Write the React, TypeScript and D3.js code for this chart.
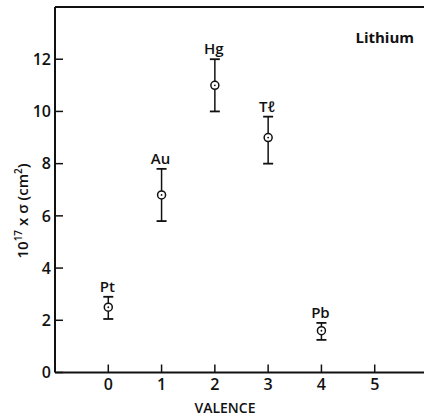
import React from "react";
import * as d3 from "d3";

// Cross sections for lithium on metal targets, by valence
const elements = ["Pt", "Au", "Hg", "Tℓ", "Pb"];
const valence = [0, 1, 2, 3, 4];
const sigma = [2.5, 6.8, 11.0, 9.0, 1.6];
const sigmaLow = [2.05, 5.8, 10.0, 8.0, 1.25];
const sigmaHigh = [2.9, 7.8, 12.0, 9.8, 1.9];

const xTicks = [0, 1, 2, 3, 4, 5];
const yTicks = [0, 2, 4, 6, 8, 10, 12];

const W = 424;
const H = 418;
const FONT = "'Open Sans', 'Liberation Sans', Arial, sans-serif";

export default function App() {
  const left = 55;
  const right = 427;
  const top = 7;
  const bottom = 372.5;

  const x = d3.scaleLinear().domain([-1, 6]).range([left, right + 1]);
  const y = d3.scaleLinear().domain([0, 14]).range([bottom, top]);

  const tickLen = 8;
  const capHalf = 5;
  const r = 4;

  return (
    <svg
      width={W}
      height={H}
      style={{ position: "absolute", left: 0, top: 0, background: "#fff" }}
      fontFamily={FONT}
    >
      {/* frame: left, bottom and top edges */}
      <line x1={left} x2={left} y1={top} y2={bottom} stroke="#111" strokeWidth={2} />
      <line x1={left} x2={W + 5} y1={bottom} y2={bottom} stroke="#111" strokeWidth={2} />
      <line x1={left} x2={W + 5} y1={top} y2={top} stroke="#111" strokeWidth={2} />

      {/* y ticks and labels */}
      {yTicks.map((t) => (
        <g key={"y" + t}>
          <line x1={left} x2={left + tickLen} y1={y(t)} y2={y(t)} stroke="#111" strokeWidth={1.5} />
          <text
            x={left - 4}
            y={y(t)}
            dy="0.36em"
            textAnchor="end"
            fontSize={16}
            fontWeight={600}
            fill="#111"
          >
            {t}
          </text>
        </g>
      ))}

      {/* x ticks and labels */}
      {xTicks.map((t) => (
        <g key={"x" + t}>
          <line x1={x(t)} x2={x(t)} y1={bottom} y2={bottom - tickLen} stroke="#111" strokeWidth={1.5} />
          <text
            x={x(t)}
            y={bottom + 17}
            textAnchor="middle"
            fontSize={16}
            fontWeight={600}
            fill="#111"
          >
            {t}
          </text>
        </g>
      ))}

      {/* axis titles */}
      <text x={225} y={413} textAnchor="middle" fontSize={14} fontWeight={600} fill="#111">
        VALENCE
      </text>
      <text
        transform={`translate(28, 211) rotate(-90)`}
        textAnchor="middle"
        fontSize={15}
        fontWeight={600}
        fill="#111"
      >
        10
        <tspan fontSize={10} dy={-6}>17</tspan>
        <tspan dy={6}> x σ (cm</tspan>
        <tspan fontSize={10} dy={-6}>2</tspan>
        <tspan dy={6}>)</tspan>
      </text>

      <text x={414} y={43} textAnchor="end" fontSize={15} fontWeight={700} fill="#111">
        Lithium
      </text>

      {/* data points with error bars */}
      {elements.map((el, i) => {
        const cx = x(valence[i]);
        const cy = y(sigma[i]);
        const yl = y(sigmaLow[i]);
        const yh = y(sigmaHigh[i]);
        return (
          <g key={el}>
            <line x1={cx} x2={cx} y1={yh} y2={cy - r} stroke="#111" strokeWidth={1.5} />
            <line x1={cx} x2={cx} y1={cy + r} y2={yl} stroke="#111" strokeWidth={1.5} />
            <line x1={cx - capHalf} x2={cx + capHalf} y1={yh} y2={yh} stroke="#111" strokeWidth={1.8} />
            <line x1={cx - capHalf} x2={cx + capHalf} y1={yl} y2={yl} stroke="#111" strokeWidth={1.8} />
            <circle cx={cx} cy={cy} r={r} fill="#fff" stroke="#111" strokeWidth={1.5} />
            <circle cx={cx} cy={cy} r={0.9} fill="#111" />
            <text
              x={cx - 1}
              y={yh - 5}
              textAnchor="middle"
              fontSize={15}
              fontWeight={600}
              fill="#111"
            >
              {el}
            </text>
          </g>
        );
      })}
    </svg>
  );
}
